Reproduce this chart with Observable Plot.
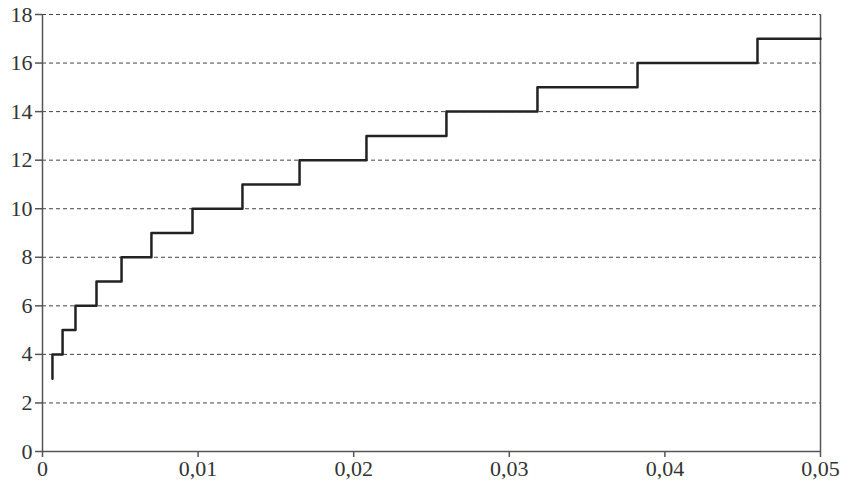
<!DOCTYPE html>
<html>
<head>
<meta charset="utf-8">
<script src="https://cdn.jsdelivr.net/npm/d3@7"></script>
<script src="https://cdn.jsdelivr.net/npm/@observablehq/plot@0.6"></script>
<style>
  html, body { margin: 0; padding: 0; background: #fff; }
  svg { display: block; }
</style>
</head>
<body>
<div id="chart"></div>
<script>
// Step positions (x where the count increases) and the levels reached
const startLevel = 3;
const breakX = [0.00064, 0.00129, 0.00212, 0.00347, 0.00508, 0.0070, 0.00964, 0.01285, 0.01652, 0.02082, 0.02596, 0.03181, 0.03824, 0.04595];
const levels = [4, 5, 6, 7, 8, 9, 10, 11, 12, 13, 14, 15, 16, 17];
const xEnd = 0.05;
const xTicks = [0, 0.01, 0.02, 0.03, 0.04, 0.05];
const yTicks = [0, 2, 4, 6, 8, 10, 12, 14, 16, 18];
const gridY = [2, 4, 6, 8, 10, 12, 14, 16, 18];

const pts = [{x: breakX[0], y: startLevel}];
breakX.forEach((x, i) => pts.push({x, y: levels[i]}));
pts.push({x: xEnd, y: levels[levels.length - 1]});

const fmtX = d => d === 0 ? "0" : d.toFixed(2).replace(".", ",");

const chart = Plot.plot({
  width: 843,
  height: 485,
  marginLeft: 42,
  marginRight: 23,
  marginTop: 14,
  marginBottom: 34,
  style: {background: "#fff"},
  x: {domain: [0, 0.05]},
  y: {domain: [0, 18]},
  marks: [
    Plot.ruleY(gridY, {stroke: "#444", strokeWidth: 1, strokeDasharray: "4,3"}),
    Plot.ruleX([0], {y1: 0, y2: 18, stroke: "#555", strokeWidth: 1.5}),
    Plot.ruleX([0.05], {y1: 0, y2: 18, stroke: "#555", strokeWidth: 1.5}),
    Plot.ruleY([0], {stroke: "#555", strokeWidth: 1.5}),
    Plot.axisY({ticks: yTicks, tickSize: 7, tickPadding: 3, label: null, stroke: "#555", strokeWidth: 1.5, fill: "#333", fontSize: 22, fontFamily: "Liberation Serif"}),
    Plot.axisX({ticks: xTicks, tickSize: 6, tickPadding: 3, label: null, tickFormat: fmtX, stroke: "#555", strokeWidth: 1.5, fill: "#333", fontSize: 22, fontFamily: "Liberation Serif"}),
    Plot.line(pts, {x: "x", y: "y", curve: "step-after", stroke: "#222", strokeWidth: 2.5})
  ]
});
chart.querySelectorAll("text").forEach(t => {
  t.style.fontFamily = "'Liberation Serif', serif";
  t.style.fontSize = "22px";
});
document.getElementById("chart").append(chart);
</script>
</body>
</html>
